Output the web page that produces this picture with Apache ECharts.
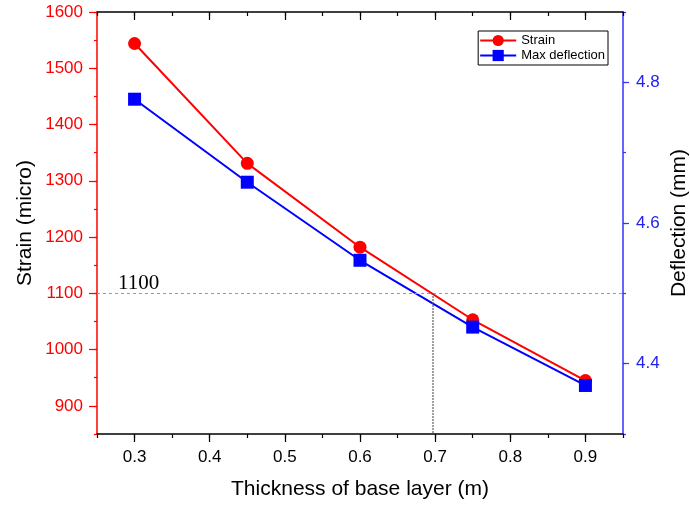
<!DOCTYPE html>
<html>
<head>
<meta charset="utf-8">
<script src="https://cdn.jsdelivr.net/npm/echarts@6/dist/echarts.min.js"></script>
<style>html,body{margin:0;padding:0;background:#fff}#c{width:690px;height:505px}</style>
</head>
<body>
<div id="c"></div>
<script>
const thickness = [0.3, 0.45, 0.6, 0.75, 0.9];
const strain = [1544, 1331, 1182, 1053, 945];
const deflection = [4.776, 4.658, 4.547, 4.452, 4.369];
const xMajorTicks = [0.3, 0.4, 0.5, 0.6, 0.7, 0.8, 0.9];
const strainMajorTicks = [900, 1000, 1100, 1200, 1300, 1400, 1500, 1600];
const deflMajorTicks = [4.4, 4.6, 4.8];
const refStrain = 1100;
const refThickness = 0.697;

const FONT = 'Liberation Sans';
const chart = echarts.init(document.getElementById('c'), null, {renderer: 'canvas'});

function xAxisPair(pos, showLabels) {
  const inside = pos === 'top';
  return [
    {
      type: 'value', position: pos, min: 0.25, max: 0.95, interval: 0.05,
      axisLine: {show: true, onZero: false, lineStyle: {color: '#000', width: 1.5}},
      axisTick: {show: true, inside: inside, length: 4, lineStyle: {color: '#000', width: 1.2}},
      axisLabel: {show: false},
      splitLine: {show: false}
    },
    {
      type: 'value', position: pos, min: 0.25, max: 0.95,
      axisLine: {show: false, onZero: false},
      axisTick: {show: true, inside: inside, length: 8, customValues: xMajorTicks, lineStyle: {color: '#000', width: 1.2}},
      axisLabel: {show: showLabels, customValues: xMajorTicks, margin: 15, fontFamily: FONT, fontSize: 17, color: '#000',
        formatter: v => v.toFixed(1)},
      splitLine: {show: false},
      name: showLabels ? 'Thickness of base layer (m)' : '',
      nameLocation: 'middle', nameGap: 45,
      nameTextStyle: {fontFamily: FONT, fontSize: 21, color: '#000'}
    }
  ];
}

const option = {
  animation: false,
  backgroundColor: '#fff',
  grid: {left: 97, top: 12, right: 67, bottom: 71, containLabel: false, outerBoundsMode: 'none'},
  legend: {
    right: 82, top: 31, orient: 'vertical',
    itemWidth: 36, itemHeight: 14, itemGap: 2,
    padding: [3, 3, 3, 1],
    borderColor: '#000', borderWidth: 1, backgroundColor: '#fff',
    textStyle: {fontFamily: FONT, fontSize: 13, color: '#000'},
    data: ['Strain', 'Max deflection']
  },
  xAxis: [...xAxisPair('bottom', true), ...xAxisPair('top', false)],
  yAxis: [
    {
      type: 'value', position: 'left', min: 850, max: 1600, interval: 50,
      axisLine: {show: true, onZero: false, lineStyle: {color: '#ff0000', width: 1.5}},
      axisTick: {show: true, length: 3, lineStyle: {color: '#ff0000', width: 1.2}},
      axisLabel: {show: false},
      splitLine: {show: false},
      name: 'Strain (micro)', nameLocation: 'middle', nameGap: 61, nameRotate: 90,
      nameTextStyle: {fontFamily: FONT, fontSize: 21, color: '#000'}
    },
    {
      type: 'value', position: 'right', min: 4.3, max: 4.9, interval: 0.1,
      axisLine: {show: true, onZero: false, lineStyle: {color: '#3333ff', width: 1.5}},
      axisTick: {show: true, length: 3, lineStyle: {color: '#3333ff', width: 1.2}},
      axisLabel: {show: false},
      splitLine: {show: false},
      name: 'Deflection (mm)', nameLocation: 'middle', nameGap: 46, nameRotate: 90,
      nameTextStyle: {fontFamily: FONT, fontSize: 21, color: '#000'}
    },
    {
      type: 'value', position: 'left', min: 850, max: 1600,
      axisLine: {show: false, onZero: false},
      axisTick: {show: true, length: 8, customValues: strainMajorTicks, lineStyle: {color: '#ff0000', width: 1.2}},
      axisLabel: {show: true, customValues: strainMajorTicks, margin: 14, fontFamily: FONT, fontSize: 17, color: '#ff0000',
        formatter: v => String(v)},
      splitLine: {show: false}
    },
    {
      type: 'value', position: 'right', min: 4.3, max: 4.9,
      axisLine: {show: false, onZero: false},
      axisTick: {show: true, length: 6, customValues: deflMajorTicks, lineStyle: {color: '#3333ff', width: 1.2}},
      axisLabel: {show: true, customValues: deflMajorTicks, margin: 13, fontFamily: FONT, fontSize: 17, color: '#2222ee',
        formatter: v => v.toFixed(1)},
      splitLine: {show: false}
    }
  ],
  series: [
    {
      name: 'Strain', type: 'line', xAxisIndex: 0, yAxisIndex: 0,
      data: thickness.map((t, i) => [t, strain[i]]),
      symbol: 'circle', symbolSize: 13,
      itemStyle: {color: '#ff0000'},
      lineStyle: {color: '#ff0000', width: 2},
      z: 3,
      markLine: {
        silent: true, symbol: 'none', animation: false,
        data: [
          {
            yAxis: refStrain,
            lineStyle: {color: '#999', type: [3, 3], width: 1},
            label: {show: true, position: 'insideStartTop', formatter: String(refStrain),
              fontFamily: 'Liberation Serif', fontSize: 21, color: '#000', distance: [21, -1]}
          },
          [
            {coord: [refThickness, refStrain], lineStyle: {color: '#555', type: 'dotted', width: 1.5}, label: {show: false}},
            {coord: [refThickness, 850]}
          ]
        ]
      }
    },
    {
      name: 'Max deflection', type: 'line', xAxisIndex: 0, yAxisIndex: 1,
      data: thickness.map((t, i) => [t, deflection[i]]),
      symbol: 'rect', symbolSize: 13,
      itemStyle: {color: '#0000ff'},
      lineStyle: {color: '#0000ff', width: 2},
      z: 4
    }
  ]
};
chart.setOption(option);
</script>
</body>
</html>
